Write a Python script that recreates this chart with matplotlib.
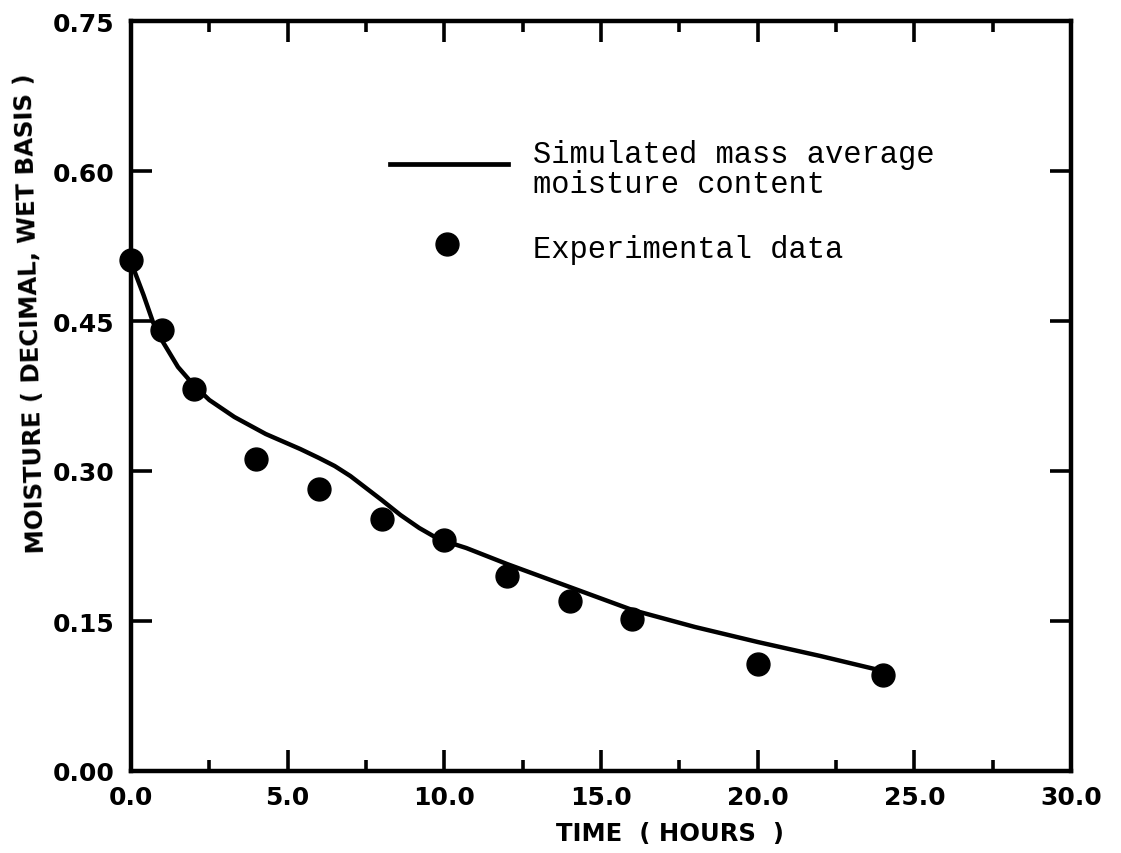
import matplotlib
matplotlib.use("Agg")
import matplotlib.pyplot as plt
from matplotlib.ticker import MultipleLocator, FormatStrFormatter

# simulated mass average moisture content
sim_t = [0, 0.4, 0.7, 1.0, 1.5, 2.0, 2.5, 3.3, 4.3, 5.4, 6.0, 6.5, 7.0,
         7.5, 8.0, 8.6, 9.2, 9.7, 10.0, 10.7, 12, 14, 16, 18, 20, 22, 24]
sim_m = [0.509, 0.476, 0.449, 0.430, 0.404, 0.386, 0.371, 0.354, 0.337,
         0.322, 0.313, 0.305, 0.295, 0.283, 0.271, 0.256, 0.243, 0.234,
         0.230, 0.223, 0.207, 0.184, 0.161, 0.144, 0.129, 0.115, 0.100]

# experimental points
exp_t = [0, 1, 2, 4, 6, 8, 10, 12, 14, 16, 20, 24]
exp_m = [0.511, 0.441, 0.382, 0.312, 0.282, 0.252, 0.231, 0.195, 0.170,
         0.152, 0.107, 0.096]

x_ticks = [0, 5, 10, 15, 20, 25, 30]
y_ticks = [0.0, 0.15, 0.30, 0.45, 0.60, 0.75]

W, H = 1121, 854
fig = plt.figure(figsize=(W / 100, H / 100), dpi=100)
ax = fig.add_axes([131 / W, 1 - 772 / H, 940 / W, 750 / H])

ax.plot(sim_t, sim_m, color="black", lw=3.2, solid_capstyle="round",
        solid_joinstyle="round", clip_on=False, zorder=3)
ax.plot(exp_t, exp_m, "o", color="black", ms=16.5, clip_on=False, zorder=4)

ax.set_xlim(0, 30)
ax.set_ylim(0, 0.75)
ax.set_xticks(x_ticks)
ax.set_yticks(y_ticks)
ax.xaxis.set_minor_locator(MultipleLocator(2.5))
ax.xaxis.set_major_formatter(FormatStrFormatter("%.1f"))
ax.yaxis.set_major_formatter(FormatStrFormatter("%.2f"))

for s in ax.spines.values():
    s.set_linewidth(3.2)

ax.tick_params(which="both", direction="in", top=True, right=True,
               width=2.6, color="black")
ax.tick_params(which="major", length=15)
ax.tick_params(which="minor", length=8)
ax.tick_params(axis="x", pad=10)
ax.tick_params(axis="y", pad=12)
for lab in ax.get_xticklabels() + ax.get_yticklabels():
    lab.set_fontfamily("DejaVu Sans")
    lab.set_fontweight("bold")
    lab.set_fontsize(18)

# axis titles
fig.text(670 / W, 1 - 834 / H, "TIME  ( HOURS  )", ha="center", va="center",
         fontsize=17.5, fontweight="bold", family="DejaVu Sans")
fig.text(31 / W, 1 - 313 / H, "MOISTURE ( DECIMAL, WET BASIS )",
         ha="center", va="center", rotation=91.5, rotation_mode="anchor",
         fontsize=17.5, fontweight="bold", family="DejaVu Sans")

# hand-drawn key inside the plot
def axfrac(px, py):
    return (px - 131) / 940, (772 - py) / 750

x0, y0 = axfrac(390, 165)
x1, _ = axfrac(508, 165)
ax.plot([x0, x1], [y0, y0], color="black", lw=3.4, transform=ax.transAxes)
dx, dy = axfrac(447, 245)
ax.plot([dx], [dy], "o", color="black", ms=16.5, transform=ax.transAxes)

tx, ty1 = axfrac(533, 163)
_, ty2 = axfrac(533, 193)
_, ty3 = axfrac(533, 258)
key_font = dict(family="Liberation Mono", fontsize=22, ha="left",
                va="baseline", transform=ax.transAxes)
ax.text(tx, ty1, "Simulated mass average", **key_font)
ax.text(tx, ty2, "moisture content", **key_font)
ax.text(tx, ty3, "Experimental data", **key_font)

fig.savefig("out.png", dpi=100)
